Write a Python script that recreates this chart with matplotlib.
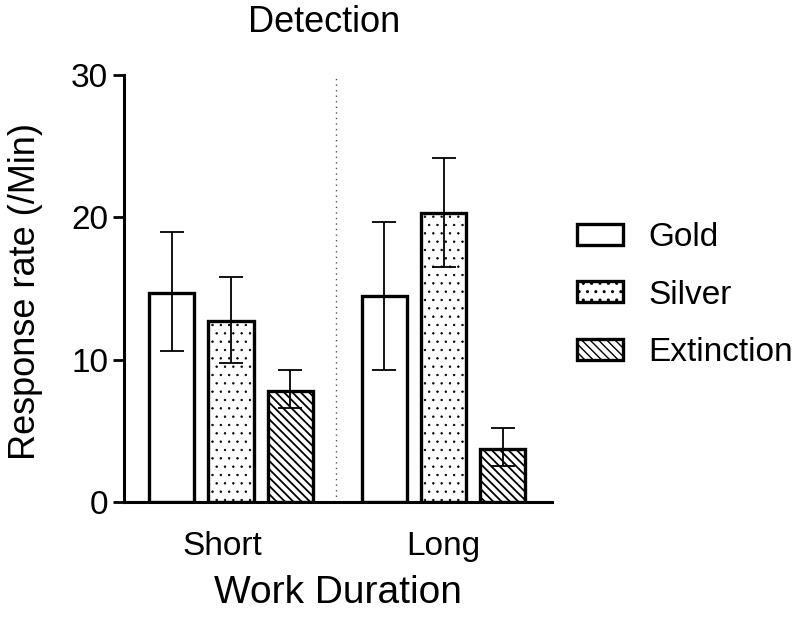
import matplotlib
matplotlib.use("Agg")
import matplotlib.pyplot as plt
import numpy as np
from matplotlib.patches import Patch

groups = ["Short", "Long"]
series = ["Gold", "Silver", "Extinction"]
means = {
    "Gold": [14.7, 14.5],
    "Silver": [12.7, 20.3],
    "Extinction": [7.8, 3.7],
}
err_low = {
    "Gold": [4.1, 5.2],
    "Silver": [2.9, 3.8],
    "Extinction": [1.2, 1.2],
}
err_high = {
    "Gold": [4.3, 5.2],
    "Silver": [3.1, 3.9],
    "Extinction": [1.5, 1.5],
}
hatches = {"Gold": "", "Silver": "..", "Extinction": "\\\\\\\\"}
hatch_lw = {"Gold": 1.0, "Silver": 0.5, "Extinction": 1.3}
yticks = [0, 10, 20, 30]

plt.rcParams['font.family'] = ['Liberation Sans', 'DejaVu Sans']

fig = plt.figure(figsize=(8, 6.21), dpi=100)
ax = fig.add_axes([124/800, 1-502/621, (552-124)/800, (502-75)/621])

x = np.arange(len(groups))
step = 0.278
width = 0.212
for i, s in enumerate(series):
    pos = x + (i - 1) * step
    with plt.rc_context({'hatch.linewidth': hatch_lw[s]}):
        ax.bar(pos, means[s], width=width, color="white", edgecolor="black",
               linewidth=2.4, hatch=hatches[s], zorder=2)
    ax.errorbar(pos, means[s], yerr=[err_low[s], err_high[s]], fmt="none",
                ecolor="black", elinewidth=1.3, capsize=8.5, capthick=1.3, zorder=3)

ax.axvline(0.494, color="#555555", linestyle=(0, (1, 3)), linewidth=1.0, zorder=1)

ax.set_xlim(-0.5035, 1.51)
ax.set_ylim(0, 30)
ax.set_yticks(yticks)
ax.set_yticklabels([str(t) for t in yticks], fontsize=24)
ax.set_xticks(x - 0.04 * np.array([1, 0]))
ax.set_xticklabels(groups, fontsize=24)
ax.tick_params(axis="x", length=0, pad=21)
ax.tick_params(axis="y", length=8, width=2, direction="out", pad=3.5)
for sp in ["top", "right"]:
    ax.spines[sp].set_visible(False)
for sp in ["left", "bottom"]:
    ax.spines[sp].set_linewidth(2.2)

ax.set_xlabel("Work Duration", fontsize=28, labelpad=9)
ax.set_ylabel("Response rate (/Min)", fontsize=26)
ax.yaxis.set_label_coords(-0.19, 0.493)
fig.text(324/800, 1-22/621, "Detection", fontsize=26, ha="center", va="center")

handles = []
for s in series:
    with plt.rc_context({'hatch.linewidth': hatch_lw[s]}):
        handles.append(Patch(facecolor="white", edgecolor="black", linewidth=2.4, hatch=hatches[s]))
fig.legend(handles, series, loc="center left", bbox_to_anchor=(577/800, 1-295/621),
           frameon=False, fontsize=24, handlelength=1.38, handleheight=0.6,
           handletextpad=0.75, labelspacing=0.8, borderpad=0, borderaxespad=0)

fig.savefig("out.png", dpi=100)
